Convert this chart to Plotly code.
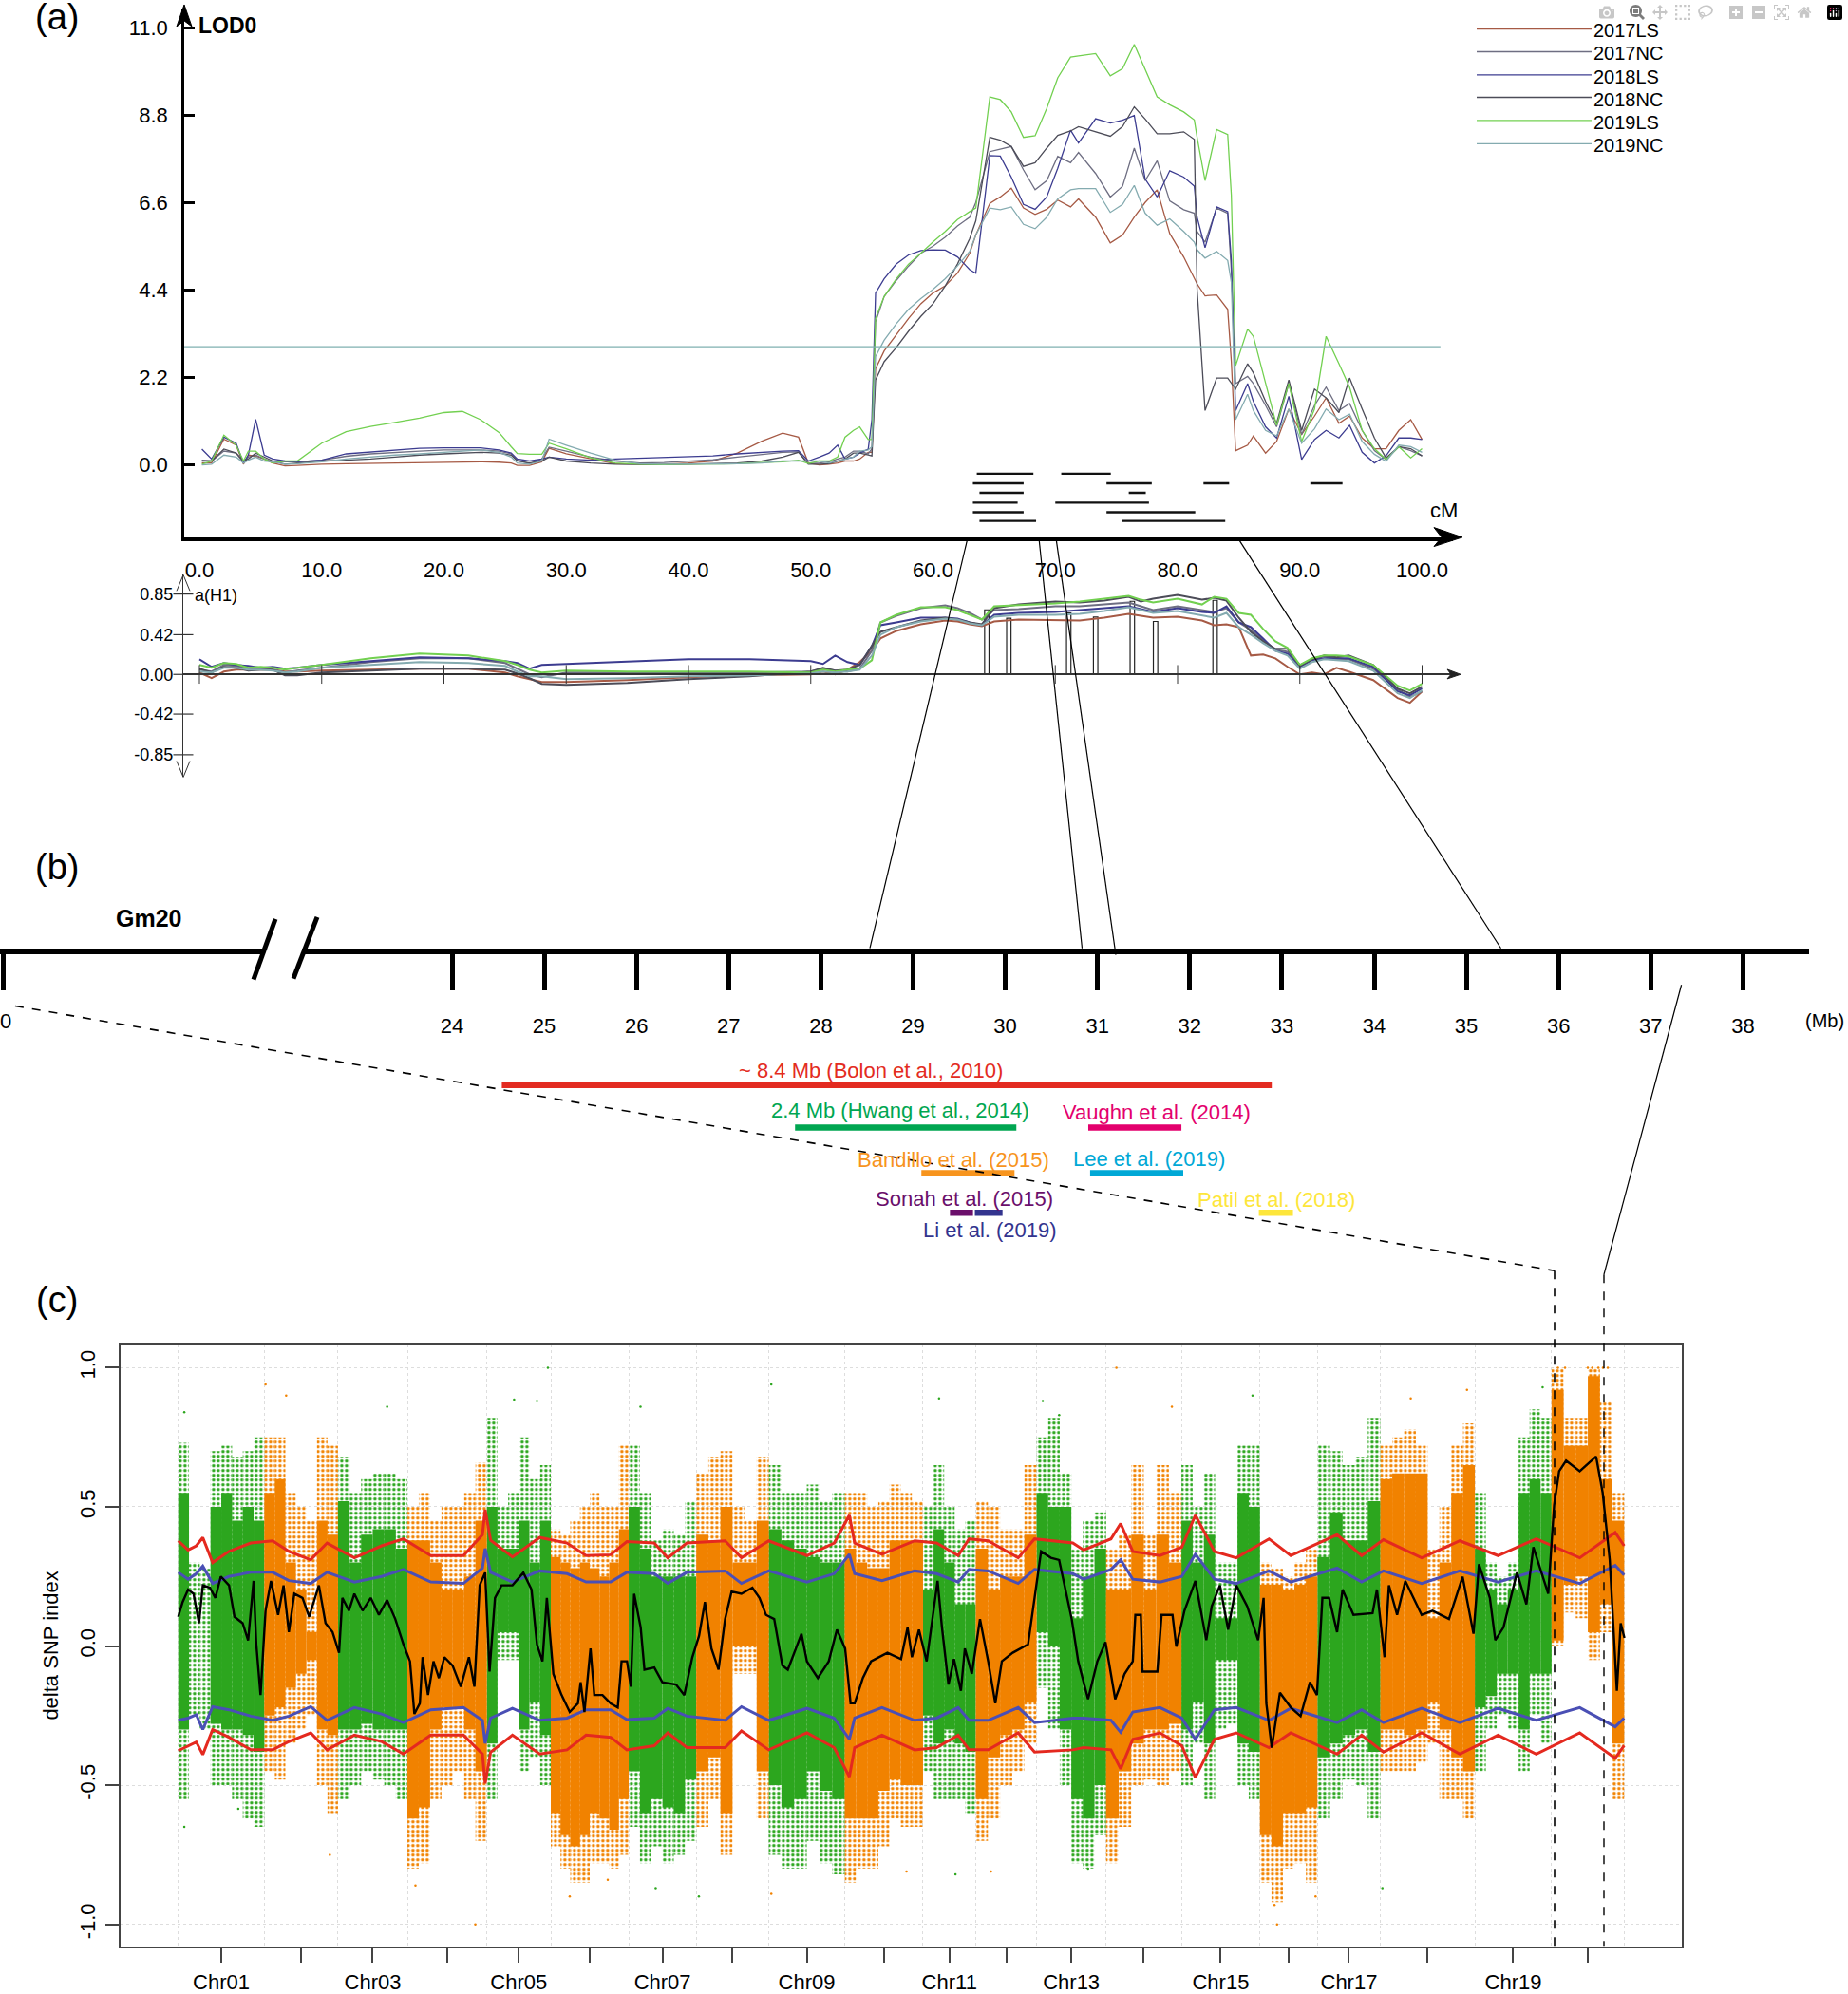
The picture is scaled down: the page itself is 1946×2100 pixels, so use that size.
import plotly.graph_objects as go

W, H = 1946, 2100
FONT = "Liberation Sans, Arial, sans-serif"

# ---------- panel (a): LOD profiles ----------
SERIES = ["2017LS", "2017NC", "2018LS", "2018NC", "2019LS", "2019NC"]
SERIES_COLORS = ["#A65A45", "#6E6E82", "#3C3C90", "#4C4C58", "#72D050", "#84ABB0"]
CM = [0.2,1,2,3,3.6,4,4.6,5.3,6,7,8,10,12,14,16,18,20,21.5,23,24.5,25.5,26,27,28,28.6,30,32,34,36,38,40,42,44,46,47.7,49,49.8,50.7,51.5,52.2,52.8,53.5,54,54.7,
      55.0,55.3,56,57,58,59,60,61,62,63,63.5,64.65,65.5,66.4,67.4,68.35,69.3,70.2,71.25,71.9,73.3,74.5,75.5,76.46,77.35,78.33,79.36,80.5,81.37,81.6,82.25,83.2,84.1,84.4,84.75,85.73,86.2,87.2,88.1,89.1,90.15,91.2,92.15,93.2,94.07,95.1,96.1,97.05,98.1,99.07,100]
LOD_2017LS = [.05,.05,.65,.5,.02,.25,.22,.15,.05,-.02,-.01,.02,.03,.04,.05,.06,.07,.08,.08,.07,.05,-.01,-.01,.08,.42,.28,.15,.03,.02,.02,.05,.1,.3,.6,.8,.7,.05,0,.02,.05,.1,.1,.15,.32,
  .32,2.42,2.87,3.28,3.69,4.06,4.33,4.51,4.83,5.33,5.79,6.59,6.75,6.97,6.47,6.31,6.44,6.67,6.5,6.7,6.24,5.59,5.79,6.24,6.61,6.93,5.83,5.24,4.69,4.56,4.26,4.28,3.92,2.6,.36,.5,.73,.3,.59,1.41,.77,1.23,1.69,1.05,1.23,.68,.41,.41,.87,1.14,.64]
LOD_2017NC = [.12,.1,.35,.3,.05,.2,.25,.15,.08,.08,.08,.12,.22,.28,.32,.35,.38,.38,.38,.35,.28,.12,.03,.15,.45,.35,.2,.1,.05,.06,.1,.13,.2,.27,.32,.33,.03,.05,.08,.15,.2,.35,.35,.28,
  .41,3.6,4.24,4.65,5.01,5.33,5.51,5.74,6.02,6.24,6.61,7.89,7.96,8.02,7.43,6.93,7.16,7.77,7.61,7.87,7.34,6.75,7.02,7.98,7.16,7.66,6.65,6.43,6.34,5.88,5.61,6.47,6.34,4.88,2.05,2.23,2.05,1.5,.96,2.05,.77,1.5,1.96,1.37,1.55,.87,.36,.14,.46,.36,.23]
LOD_2018LS = [.4,.15,.7,.55,.05,.25,1.15,.25,.15,.1,.08,.12,.28,.33,.38,.42,.43,.43,.43,.38,.3,.15,.1,.15,.2,.15,.12,.15,.17,.18,.2,.23,.28,.32,.35,.36,.1,.2,.3,.5,.15,.2,.3,.4,
  1.14,4.33,4.69,5.06,5.29,5.4,5.42,5.41,5.24,4.92,4.83,7.79,7.78,7.25,6.56,6.44,6.75,7.47,8.43,8.11,8.72,8.61,8.68,8.8,7.2,6.75,7.41,7.25,7.02,6.24,5.47,6.5,6.38,5.15,1.37,2.05,1.6,.96,.68,1.73,.14,.64,.87,.68,1.0,.32,.05,.23,.68,.68,.64]
LOD_2018NC = [.1,.1,.4,.3,.1,.15,.3,.2,.1,.02,.05,.1,.12,.15,.2,.25,.28,.3,.32,.3,.25,.1,.05,.1,.2,.1,.05,.02,.01,.01,.02,.03,.05,.1,.2,.32,.02,.02,.03,.1,.15,.3,.3,.25,
  .23,2.14,2.6,2.96,3.37,3.74,4.06,4.51,5.06,5.7,6.15,8.25,8.18,8.02,7.52,7.61,7.98,8.3,8.41,8.52,8.39,8.28,8.52,9.02,8.71,8.34,8.34,8.39,8.2,4.42,1.37,2.19,2.19,2.05,1.91,2.55,2.32,1.6,1.05,2.14,.87,1.91,1.69,1.32,2.19,1.41,.68,.18,.46,.41,.23]
LOD_2019LS = [.02,.1,.75,.5,.1,.35,.35,.15,.05,.1,.1,.55,.84,.97,1.07,1.18,1.32,1.35,1.14,.82,.46,.29,.27,.27,.55,.41,.18,.05,.02,.01,.02,.03,.03,.06,.08,.12,.04,.1,.1,.2,.7,.87,.96,.64,
  .64,3.69,4.24,4.69,5.06,5.33,5.62,5.88,6.18,6.38,6.47,9.27,9.2,8.89,8.25,8.29,8.98,9.75,10.27,10.3,10.36,9.8,9.98,10.59,9.94,9.27,9.07,8.89,8.69,8.25,7.16,8.45,8.32,6.79,2.5,3.42,3.24,2.05,1.0,2.05,.59,1.41,3.24,2.55,1.96,.87,.41,.14,.46,.18,.41]
LOD_2019NC = [0,.02,.25,.2,.05,.12,.2,.1,.08,.02,.03,.08,.15,.2,.25,.28,.32,.35,.38,.32,.2,.05,.02,.1,.65,.5,.3,.12,.03,.02,.02,.02,.03,.05,.1,.1,.1,.1,.05,.1,.15,.2,.35,.38,
  .46,2.73,3.14,3.56,3.92,4.19,4.42,4.69,5.01,5.38,5.79,6.47,6.43,6.5,6.06,5.95,6.24,6.7,6.93,6.96,6.96,6.36,6.56,7.04,6.34,6.04,6.2,5.88,5.61,5.42,5.21,5.38,5.15,4.6,1.14,1.78,1.37,.87,.73,1.41,.55,.91,1.41,1.14,1.28,.59,.27,.09,.5,.46,.32]
LOD_ALL = [LOD_2017LS, LOD_2017NC, LOD_2018LS, LOD_2018NC, LOD_2019LS, LOD_2019NC]
LOD_THRESHOLD = 2.98
LOD_TICKS = [0.0, 2.2, 4.4, 6.6, 8.8, 11.0]
CM_TICKS = [0, 10, 20, 30, 40, 50, 60, 70, 80, 90, 100]
# black QTL-support segments under the curves: row (LOD level), start cM, end cM
QTL_ROW = [-.22,-.22,-.46,-.46,-.46,-.46,-.70,-.70,-.95,-.95,-1.19,-1.19,-1.41,-1.41]
QTL_START = [63.58,70.49,63.26,74.19,82.12,90.86,63.8,76.01,63.26,70.0,63.26,74.19,63.8,75.48]
QTL_END = [68.21,74.54,67.41,77.89,84.22,93.49,67.41,77.4,66.92,77.66,67.41,81.45,68.43,83.9]

# ---------- panel (a) lower: additive effect ----------
A_CM = [0,1,2,3,4,5,6,7,8,10,14,18,22,25,26,27,28,30,35,40,45,50,51,52,53,54,55,55.7,57,59,61,62,63,64,65,67,70,72,74,76,77,78,80,82,83,84,85,86,87,88,89,90,91,92,93,94,96,98,99,100]
A_2017LS = [.02,-.04,.03,.05,.05,.05,.05,.03,.03,.04,.05,.06,.06,.02,-.02,-.05,-.08,-.08,-.06,-.03,-.01,0,.03,0,.05,.13,.25,.38,.46,.53,.57,.56,.53,.51,.56,.58,.57,.57,.6,.64,.62,.6,.61,.57,.52,.53,.5,.2,.21,.17,.08,0,.02,0,.07,.03,-.06,-.25,-.3,-.18]
A_2017NC = [.05,.03,.1,.09,.06,.06,.05,.02,.04,.07,.13,.17,.17,.12,.06,0,-.03,.02,.02,.02,.02,.03,.06,.04,.03,.06,.25,.55,.62,.7,.73,.7,.65,.58,.68,.69,.72,.72,.74,.76,.72,.68,.72,.68,.66,.7,.55,.47,.36,.26,.24,.1,.16,.19,.16,.16,.06,-.16,-.24,-.18]
A_2018LS = [.16,.08,.12,.1,.09,.07,.08,.06,.07,.1,.14,.18,.17,.14,.12,.06,.1,.11,.14,.16,.16,.14,.11,.2,.13,.1,.3,.52,.55,.6,.6,.59,.55,.52,.63,.65,.66,.68,.7,.72,.69,.66,.7,.66,.65,.72,.55,.5,.38,.25,.22,.08,.15,.17,.17,.17,.08,-.18,-.22,-.15]
A_2018NC = [.06,.02,.08,.07,.04,.05,.05,-.01,-.01,.02,.04,.06,.06,.05,.01,-.04,-.1,-.11,-.09,-.05,-.02,.03,.07,.04,.05,.1,.3,.45,.5,.57,.6,.58,.55,.53,.7,.74,.77,.76,.78,.82,.77,.8,.84,.79,.81,.78,.6,.45,.35,.27,.27,.09,.16,.2,.18,.2,.1,-.15,-.2,-.13]
A_2019LS = [.1,.07,.12,.11,.07,.08,.07,.05,.07,.1,.17,.22,.2,.14,.1,.05,.02,.04,.03,.03,.03,.02,.05,.03,.05,.06,.15,.55,.63,.71,.71,.68,.63,.58,.72,.73,.75,.77,.8,.83,.79,.76,.8,.74,.82,.8,.65,.63,.48,.35,.28,.1,.17,.2,.2,.19,.1,-.12,-.17,-.1]
A_2019NC = [.03,.02,.07,.07,.05,.05,.04,.02,.03,.07,.1,.13,.12,.09,.03,-.02,-.02,-.05,-.04,-.02,-.01,.01,.03,.02,.03,.05,.2,.42,.5,.56,.59,.58,.54,.52,.61,.63,.63,.64,.67,.71,.68,.65,.67,.62,.6,.65,.5,.42,.33,.25,.2,.06,.13,.16,.15,.14,.04,-.2,-.25,-.17]
A_ALL = [A_2017LS, A_2017NC, A_2018LS, A_2018NC, A_2019LS, A_2019NC]
A_PEAK_CM = [64.4,66.2,71.1,73.3,76.3,78.2,83.07]
A_PEAK_H = [.683,.593,.65,.607,.773,.56,.783]
A_TICKS = [.85,.42,0,-.42,-.85]
A_TICKTEXT = ["0.85","0.42","0.00","-0.42","-0.85"]

# ---------- panel (b): physical map ----------
MB_TICKS = list(range(24, 39))
MB_BROKEN_ZERO = 19.13   # where the broken axis puts its "0"
STUDY_LABEL = ["~ 8.4 Mb (Bolon et al., 2010)","2.4 Mb (Hwang et al., 2014)","Vaughn et al. (2014)","Bandillo et al. (2015)","Lee et al. (2019)","Sonah et al. (2015)","Li et al. (2019)","Patil et al. (2018)"]
STUDY_START = [24.54,27.72,30.9,29.09,30.92,29.40,29.67,32.75]
STUDY_END = [32.89,30.12,31.91,30.10,31.93,29.65,29.97,33.12]
STUDY_ROW = [1,2,2,3.07,3.07,4,4,4]
STUDY_COLOR = ["#E32B21","#00A651","#E3006D","#F7941D","#00A8D6","#6B0F6B","#33348E","#FDE63B"]

# ---------- panel (c): genome scan ----------
CHR_LEN = [56.8,48.6,45.8,52.4,42.2,51.4,44.6,47.8,50.2,51.6,34.8,40.1,45.9,49.7,51.8,37.9,41.6,62.3,50.6,47.9]
# per chromosome, equal windows: outer sparse top, dense top, dense bottom, outer sparse bottom
SPARSE_TOP = [[.73,.3,.28,.7,.72,.68,.7,.75],[.75,.75,.55,.5,.45,.75,.72],[.68,.55,.6,.62,.62,.6],[.5,.55,.45,.5,.5,.55,.66],
 [.82,.5,.55,.75,.6,.65],[.42,.4,.45,.5,.55,.5,.5,.72],[.72,.55,.38,.42,.4,.52],[.62,.68,.7,.5,.45,.68],[.65,.55,.55,.58,.52,.55],
 [.55,.55,.5,.52,.58,.55,.52],[.5,.65,.5,.42,.45],[.52,.5,.42,.42,.65],[.75,.82,.62,.35,.45,.48],[.35,.4,.65,.4,.65,.55],
 [.65,.5,.62,.3,.3,.72,.72],[.3,.28,.25,.3,.35],[.72,.7,.65,.68,.82],[.72,.75,.78,.72,.35,.5,.72,.8],[.55,.3,.25,.3,.75,.85,.82],[1.0,.82,.82,1.0,.88,.55]]
DENSE_TOP = [[.55,0,0,.5,.55,.45,.5,.45],[.55,.6,.3,.2,.05,.45,.4],[.52,.3,.4,.42,.42,.35],[.38,.38,.3,.2,.2,.25,.45],
 [.5,.35,.35,.45,.3,.45],[.32,.3,.28,.3,.28,.25,.3,.42],[.5,.35,.25,.25,.25,.25],[.4,.38,.5,.3,.3,.45],[.42,.38,.35,.32,.3,.3],
 [.35,.3,.28,.28,.38,.38,.38],[.2,.42,.3,.15,.15],[.35,.2,.25,.25,.4],[.55,.5,.5,.1,.25,.35],[.2,.2,.4,.2,.4,.3],
 [.45,.3,.4,.1,.1,.55,.5],[.22,.22,.2,.22,.25],[.32,.48,.38,.38,.52],[.6,.62,.62,.62,.1,.3,.55,.65],[.35,.2,.15,.2,.55,.6,.55],[.92,.72,.72,.97,.6,.45]]
DENSE_BOT = [[-.3,0,0,-.28,-.3,-.3,-.32,-.38],[-.25,-.22,-.15,-.1,-.05,-.3,-.32],[-.3,-.3,-.28,-.3,-.3,-.3],[-.62,-.58,-.3,-.22,-.22,-.3,-.45],
 [-.35,.05,.05,-.3,-.2,-.32],[-.6,-.68,-.72,-.68,-.6,-.62,-.66,-.55],[-.45,-.6,-.55,-.58,-.6,-.48],[-.45,-.4,-.6,0,0,-.45],[-.5,-.58,-.55,-.45,-.52,-.55],
 [-.62,-.62,-.62,-.52,-.48,-.5,-.5],[-.25,-.35,-.3,-.35,-.38],[-.55,-.4,-.32,-.3,-.2],[.05,0,-.3,-.55,-.62,-.5],[-.62,-.45,-.35,-.3,-.3,-.28],
 [-.3,-.2,-.35,-.05,-.05,-.35,-.38],[-.68,-.72,-.6,-.6,-.58],[-.4,-.35,-.32,-.3,-.38],[-.3,-.3,-.32,-.3,-.2,-.3,-.4,-.45],[-.22,-.18,-.1,-.1,-.3,-.1,-.1],[.02,.22,.25,.05,.15,-.35]]
SPARSE_BOT = [[-.55,-.25,-.3,-.5,-.5,-.55,-.62,-.65],[-.45,-.48,-.35,-.3,-.25,-.5,-.6],[-.55,-.5,-.45,-.48,-.5,-.55],[-.8,-.78,-.55,-.5,-.45,-.55,-.7],
 [-.55,-.05,-.05,-.45,-.4,-.5],[-.72,-.8,-.85,-.85,-.78,-.78,-.8,-.75],[-.65,-.78,-.72,-.78,-.75,-.7],[-.65,-.55,-.75,-.1,-.1,-.62],[-.75,-.8,-.8,-.7,-.78,-.82],
 [-.85,-.8,-.8,-.72,-.62,-.65,-.65],[-.45,-.55,-.55,-.55,-.6],[-.7,-.62,-.5,-.45,-.35],[-.15,-.3,-.5,-.78,-.8,-.68],[-.78,-.65,-.5,-.48,-.5,-.45],
 [-.5,-.35,-.55,-.3,-.28,-.5,-.55],[-.85,-.92,-.8,-.78,-.85],[-.62,-.55,-.48,-.5,-.62],[-.45,-.45,-.45,-.42,-.35,-.55,-.55,-.62],[-.45,-.3,-.25,-.3,-.45,-.25,-.35],[0,.12,.1,-.05,.05,-.55]]
CHR_COLORS = ["#2CA61E", "#F18200"]
STRAY_GREEN_X = [243.9,221.6,236.7,391.3,305,137.8,4,4,39.6,315,343.5,502,570.4,581.2,708.8,794.5,600.3,512.8,900.2]
STRAY_GREEN_Y = [1.0,.885,.88,.94,.86,.86,.84,-.65,-.585,-.87,-.9,.89,.88,.83,.9,-.87,-.8,-.82,.93]
STRAY_ORANGE_X = [57.6,71.2,196,156.5,258.3,283.4,391.3,100,619,655.6,725,723.3,750.4,813.2,850.3,910.3,915,930,933,937,940,943.2,536.2,480.5]
STRAY_ORANGE_Y = [.94,.9,-1.0,-.86,-.9,-.84,-.89,-.75,1.0,.86,-1.0,-.93,-.9,.89,.92,1.0,1.0,1.0,1.0,1.0,1.0,1.0,-.81,-.81]
CI_X = [0,6.5,11.9,16.2,22.7,33.5,47.9,62.3,73,87.4,98.2,116.2,134.2,148.6,166.6,188.2,200.7,202.5,206.1,220.5,238.5,256.5,269.1,285.3,296,314,323,335.6,360.8,371.6,389.6,414.8,432.8,442.8,446.3,464.3,485.9,500.3,514.6,521.8,534.4,554.2,565,590.2,597.4,615.4,621.8,629.8,647.7,662.1,671.1,683.7,698.1,719.7,734,764.6,780.8,795.2,820.4,845.6,870.8,896,924.7,948.1,954]
RED_UP = [.378,.345,.36,.39,.30,.34,.37,.378,.34,.31,.37,.317,.36,.385,.325,.325,.40,.49,.38,.32,.39,.37,.325,.328,.375,.37,.317,.37,.378,.317,.378,.325,.37,.47,.37,.33,.378,.37,.325,.385,.378,.317,.385,.37,.345,.385,.44,.34,.325,.355,.47,.34,.317,.385,.325,.40,.325,.382,.317,.378,.325,.385,.317,.408,.36]
BLUE_UP = [.265,.24,.26,.287,.225,.25,.265,.265,.235,.225,.265,.23,.25,.275,.23,.225,.28,.35,.265,.23,.27,.26,.23,.23,.265,.26,.225,.265,.27,.225,.27,.23,.26,.33,.26,.235,.27,.26,.23,.275,.27,.225,.275,.26,.24,.275,.31,.24,.23,.25,.33,.24,.225,.27,.23,.28,.23,.27,.225,.27,.23,.27,.225,.29,.255]
BLUE_LOW = [-.267,-.259,-.247,-.30,-.218,-.229,-.252,-.267,-.252,-.218,-.267,-.221,-.244,-.275,-.229,-.221,-.267,-.35,-.259,-.224,-.267,-.259,-.229,-.229,-.264,-.259,-.224,-.252,-.267,-.218,-.267,-.224,-.259,-.335,-.259,-.221,-.267,-.259,-.221,-.267,-.267,-.221,-.275,-.259,-.259,-.267,-.31,-.237,-.221,-.259,-.335,-.229,-.221,-.267,-.224,-.275,-.229,-.275,-.224,-.275,-.224,-.267,-.221,-.29,-.259]
RED_LOW = [-.376,-.36,-.345,-.39,-.30,-.328,-.373,-.373,-.343,-.312,-.373,-.32,-.343,-.388,-.32,-.32,-.388,-.494,-.381,-.32,-.388,-.373,-.32,-.328,-.373,-.358,-.312,-.365,-.365,-.305,-.373,-.312,-.365,-.47,-.365,-.32,-.373,-.365,-.32,-.373,-.373,-.312,-.381,-.373,-.365,-.373,-.441,-.335,-.312,-.358,-.472,-.335,-.312,-.365,-.312,-.388,-.32,-.381,-.312,-.388,-.32,-.388,-.312,-.403,-.358]
DELTA_X = [0.0,2.9,6.5,10.1,13.7,16.2,20.9,24.5,28.1,33.5,37.1,42.5,46.1,49.7,51.5,54.3,57.6,61.2,65.9,69.5,73.0,76.6,82.0,86.4,92.8,97.2,101.8,106.1,108.3,112.6,116.2,121.6,127.0,132.4,137.8,143.2,148.6,152.9,155.8,159.4,161.2,164.8,168.4,172.0,175.6,181.0,186.4,191.8,195.4,198.9,202.5,205.4,209.0,213.3,220.5,227.7,233.1,236.7,240.3,243.2,247.5,252.9,258.3,263.7,265.5,268.0,272.0,274.5,279.9,285.3,290.0,292.5,296.1,298.6,300.8,305.1,307.6,314.1,319.4,328.4,333.9,339.2,343.6,347.5,351.8,356.5,360.8,365.1,371.6,378.8,383.5,387.8,393.2,398.6,402.2,411.2,414.8,422.0,429.2,434.6,440.0,443.6,
 446.3,451.7,457.1,467.9,476.9,481.2,484.1,488.7,493.8,498.5,501.0,503.9,508.2,511.8,516.4,519.0,523.6,529.0,534.4,539.1,543.4,550.6,560.7,565.0,569.3,575.8,581.2,584.8,589.5,593.8,600.3,606.4,611.8,618.2,624.4,629.8,631.5,635.1,636.2,646.0,648.8,656.0,658.5,663.9,671.1,678.3,681.9,687.3,692.7,698.1,705.3,712.5,716.1,717.9,721.5,726.9,734.1,740.5,746.7,751.3,754.9,759.3,764.6,768.2,775.4,788.0,790.9,795.9,798.8,804.2,809.6,820.4,827.6,838.4,847.4,854.6,858.2,865.4,869.0,874.4,883.3,889.5,894.1,903.9,907.8,911.1,915.7,924.7,935.5,939.8,944.5,949.2,951.7,954.2]
DELTA_Y = [.105,.158,.203,.188,.082,.218,.21,.173,.25,.218,.105,.082,.02,.234,.006,-.176,.127,.234,.112,.218,.05,.188,.173,.105,.218,.082,.05,-.024,.173,.127,.188,.127,.173,.112,.165,.097,.006,-.055,-.244,-.206,-.04,-.176,-.055,-.115,-.04,-.07,-.146,-.04,-.146,.218,.264,-.092,.173,.218,.218,.264,.203,.006,-.055,.173,-.1,-.176,-.237,-.206,-.13,-.237,-.009,-.176,-.176,-.206,-.221,-.055,-.055,-.146,.188,.067,-.085,-.077,-.13,-.138,-.176,-.04,.036,.158,-.009,-.085,.097,.196,.188,.21,.173,.112,.097,-.07,-.085,.044,-.055,-.115,-.055,.059,-.009,-.206,
 -.206,-.115,-.055,-.024,-.047,.067,-.04,.059,-.055,.127,.234,.067,-.138,-.047,-.161,-.009,-.1,.097,-.055,-.206,-.055,-.024,.006,.173,.34,.317,.309,.218,.097,-.055,-.191,-.055,.014,-.191,-.1,-.055,.112,.112,-.092,-.092,.112,.112,-.002,.127,.234,.021,.143,.218,.059,.218,.143,.021,.173,-.206,-.365,-.168,-.221,-.252,-.13,-.176,.173,.173,.05,.203,.112,.118,.203,-.04,.218,.112,.234,.112,.127,.097,.249,.044,.294,.173,.021,.067,.264,.15,.355,.188,.506,.628,.666,.628,.681,.552,.309,-.161,.082,.029]
DELTA_TICKS = [-1.0,-.5,0,.5,1.0]

assert len(CM)==95 and all(len(s)==len(CM) for s in LOD_ALL), [len(s) for s in LOD_ALL]
assert all(len(s)==len(A_CM) for s in A_ALL), [len(s) for s in A_ALL]
assert all(len(s)==len(CI_X) for s in (RED_UP,BLUE_UP,BLUE_LOW,RED_LOW)), (len(CI_X),len(RED_UP),len(BLUE_UP),len(BLUE_LOW),len(RED_LOW))
assert len(DELTA_X)==len(DELTA_Y),(len(DELTA_X),len(DELTA_Y))

def px(x): return x / W
def py(y): return 1 - y / H

fig = go.Figure()
shapes, notes = [], []
ax_line = "#000000"

def seg(x0, y0, x1, y1, color="black", width=1.2, dash=None):
    shapes.append(dict(type="line", xref="paper", yref="paper", x0=px(x0), y0=py(y0), x1=px(x1), y1=py(y1),
                       line=dict(color=color, width=width, dash=dash)))

def note(x, y, text, size=22, color="black", bold=False, xanchor="center", angle=0):
    t = f"<b>{text}</b>" if bold else text
    notes.append(dict(xref="paper", yref="paper", x=px(x), y=py(y), text=t, showarrow=False, xanchor=xanchor, yanchor="middle",
                      textangle=angle, font=dict(family=FONT, size=size, color=color)))

def arrow(points, color="black"):
    path = "M " + " L ".join(f"{px(a)},{py(b)}" for a, b in points) + " Z"
    shapes.append(dict(type="path", xref="paper", yref="paper", path=path, fillcolor=color, line=dict(color=color, width=1)))

# panel (a) top
for name, col, ys in zip(SERIES, SERIES_COLORS, LOD_ALL):
    fig.add_trace(go.Scatter(x=CM, y=ys, mode="lines", name=name, line=dict(color=col, width=1.3), xaxis="x", yaxis="y", hoverinfo="name+x+y"))
fig.add_trace(go.Scatter(x=[-1.24, 101.5], y=[LOD_THRESHOLD]*2, mode="lines", line=dict(color="#7FB0B0", width=1.3), xaxis="x", yaxis="y", name="threshold"))
qx, qy = [], []
for r, a, b in zip(QTL_ROW, QTL_START, QTL_END):
    qx += [a, b, None]; qy += [r, r, None]
fig.add_trace(go.Scatter(x=qx, y=qy, mode="lines", line=dict(color="#111111", width=2.4), xaxis="x", yaxis="y", name="QTL"))
fig.add_trace(go.Scatter(x=CM_TICKS, y=[-1.824]*len(CM_TICKS), mode="markers", cliponaxis=False, xaxis="x", yaxis="y", name="ticks",
                         marker=dict(symbol="line-ns", size=17, line=dict(color="black", width=2.5))))

# panel (a) bottom
fig.add_trace(go.Bar(x=A_PEAK_CM, y=A_PEAK_H, width=[.36]*len(A_PEAK_CM), marker=dict(color="white", line=dict(color="#222222", width=1.2)), xaxis="x2", yaxis="y2", name="peaks"))
for name, col, ys in zip(SERIES, SERIES_COLORS, A_ALL):
    fig.add_trace(go.Scatter(x=A_CM, y=ys, mode="lines", name=name+" a", line=dict(color=col, width=2), xaxis="x2", yaxis="y2"))
fig.add_trace(go.Scatter(x=CM_TICKS, y=[0]*len(CM_TICKS), mode="markers", cliponaxis=False, xaxis="x2", yaxis="y2", name="ticks",
                         marker=dict(symbol="line-ns", size=14, line=dict(color="#333333", width=1))))
fig.add_trace(go.Scatter(x=[-1.32]*len(A_TICKS), y=A_TICKS, mode="markers", cliponaxis=False, xaxis="x2", yaxis="y2", name="ticks",
                         marker=dict(symbol="line-ew", size=15, line=dict(color="#333333", width=1.2))))

# panel (b)
for lab, a, b, r, col in zip(STUDY_LABEL, STUDY_START, STUDY_END, STUDY_ROW, STUDY_COLOR):
    fig.add_trace(go.Scatter(x=[a, b], y=[r, r], mode="lines", name=lab, line=dict(color=col, width=6.5), xaxis="x3", yaxis="y3"))

# panel (c)
starts = []
pos = 0.0
for L in CHR_LEN:
    starts.append(pos); pos += L
for idx, color in enumerate(CHR_COLORS):
    cx, cw, st, sb, dt, db = [], [], [], [], [], []
    for c in range(idx, 20, 2):
        n = len(SPARSE_TOP[c])
        w = CHR_LEN[c] / n
        for i in range(n):
            cx.append(starts[c] + (i + .5) * w); cw.append(w)
            st.append(SPARSE_TOP[c][i]); sb.append(SPARSE_BOT[c][i]); dt.append(DENSE_TOP[c][i]); db.append(DENSE_BOT[c][i])
    fig.add_trace(go.Bar(x=cx, base=sb, y=[a-b for a, b in zip(st, sb)], width=cw, xaxis="x4", yaxis="y4", name="sparse",
                         marker=dict(color="rgba(255,255,255,0)", line=dict(width=0),
                                     pattern=dict(shape=".", size=5, solidity=.38, fgcolor=color, fgopacity=1, bgcolor="rgba(255,255,255,0)"))))
    fig.add_trace(go.Bar(x=cx, base=db, y=[a-b for a, b in zip(dt, db)], width=cw, xaxis="x4", yaxis="y4", name="dense",
                         marker=dict(color=color, line=dict(width=0))))
fig.add_trace(go.Scatter(x=STRAY_GREEN_X, y=STRAY_GREEN_Y, mode="markers", marker=dict(color=CHR_COLORS[0], size=2.5), xaxis="x4", yaxis="y4", name="SNP"))
fig.add_trace(go.Scatter(x=STRAY_ORANGE_X, y=STRAY_ORANGE_Y, mode="markers", marker=dict(color=CHR_COLORS[1], size=2.5), xaxis="x4", yaxis="y4", name="SNP"))
for ys, col in ((BLUE_UP, "#4A4FB5"), (BLUE_LOW, "#4A4FB5"), (RED_UP, "#E4291F"), (RED_LOW, "#E4291F")):
    fig.add_trace(go.Scatter(x=CI_X, y=ys, mode="lines", line=dict(color=col, width=3), xaxis="x4", yaxis="y4", name="CI"))
fig.add_trace(go.Scatter(x=DELTA_X, y=DELTA_Y, mode="lines", line=dict(color="black", width=2.4), xaxis="x4", yaxis="y4", name="delta SNP index"))

# geometry of panels, in page pixels
a_l, a_r, a_t, a_b = 194, 1530, 10, 568.3
h_l, h_r, h_t, h_b = 193, 1530, 608, 822
b_l, b_r, b_t, b_b = 0, 1905, 1006.7, 1320
c_l, c_r, c_t, c_b = 127.4, 1771.4, 1422.3, 2058.5
bounds = []
for s, L in zip(starts, CHR_LEN):
    bounds.append(s)
bounds.append(pos)
mids = [s + L / 2 for s, L in zip(starts, CHR_LEN)]
chr_text = [f"Chr{i+1:02d}" if i % 2 == 0 else "" for i in range(20)]
tickfont = dict(family=FONT, size=22, color="black")

layout = dict(
    width=W, height=H, margin=dict(l=0, r=0, t=0, b=0), paper_bgcolor="white", plot_bgcolor="rgba(0,0,0,0)",
    showlegend=False, barmode="overlay", font=dict(family=FONT, color="black"),
    xaxis=dict(domain=[px(a_l), px(a_r)], range=[(a_l-210)/12.875, (a_r-210)/12.875], anchor="y", tickvals=CM_TICKS,
               ticktext=[f"{v:.1f}" for v in CM_TICKS], tickfont=tickfont, ticks="", showgrid=False, zeroline=False,
               showline=True, linecolor=ax_line, linewidth=3.5, ticklabelstandoff=12),
    yaxis=dict(domain=[py(a_b), py(a_t)], range=[(491.8-a_b)/42, (491.8-a_t)/42], anchor="x", tickvals=LOD_TICKS,
               ticktext=[f"{v:.1f}" for v in LOD_TICKS], tickfont=tickfont, ticks="inside", ticklen=11, tickwidth=3, tickcolor="black",
               showgrid=False, zeroline=False, showline=True, linecolor=ax_line, linewidth=2.5, ticklabelstandoff=10),
    xaxis2=dict(domain=[px(h_l), px(h_r)], range=[(h_l-210)/12.875, (h_r-210)/12.875], anchor="free", position=py(713.3), showticklabels=False,
                ticks="", showgrid=False, zeroline=False, showline=True, linecolor="#333333", linewidth=1.6),
    yaxis2=dict(domain=[py(h_b), py(h_t)], range=[(713.3-h_b)/100, (713.3-h_t)/100], anchor="x2", tickvals=A_TICKS, ticktext=A_TICKTEXT,
                tickfont=dict(family=FONT, size=18, color="black"), ticks="", showgrid=False, zeroline=False, showline=True,
                linecolor="#333333", linewidth=1.2, ticklabelstandoff=6),
    xaxis3=dict(domain=[px(b_l), px(b_r)], range=[(b_l-476)/97.1+24, (b_r-476)/97.1+24], anchor="free", position=py(1006.7),
                tickvals=[MB_BROKEN_ZERO]+MB_TICKS, ticktext=[""]+[str(v) for v in MB_TICKS], tickfont=tickfont, ticks="outside",
                ticklen=38, tickwidth=5, tickcolor="black", showgrid=False, zeroline=False, showline=True, linecolor="black", linewidth=6,
                ticklabelstandoff=18),
    yaxis3=dict(domain=[py(b_b), py(b_t)], range=[1+(b_b-1147.7)/45, 1-(1147.7-b_t)/45], anchor="x3", visible=False),
    xaxis4=dict(domain=[px(c_l), px(c_r)], range=[(c_l-187.7)/1.596, (c_r-187.7)/1.596], anchor="y4", tickvals=mids, ticktext=chr_text,
                tickfont=tickfont, ticks="outside", ticklen=15, tickwidth=1.6, tickcolor="#444444", showgrid=False, zeroline=False,
                showline=True, mirror=True, linecolor="#444444", linewidth=1.8, ticklabelstandoff=2,
                minor=dict(tickvals=bounds, showgrid=True, gridcolor="#DDDDDD", griddash="dot", gridwidth=1, ticks="")),
    yaxis4=dict(domain=[py(c_b), py(c_t)], range=[(1741-c_b)/294.4, (1741-c_t)/294.4], anchor="x4", tickvals=DELTA_TICKS,
                ticktext=[f"{v:.1f}" for v in DELTA_TICKS], tickangle=-90, tickfont=tickfont, ticks="outside", ticklen=15, tickwidth=1.6,
                tickcolor="#444444", showgrid=True, gridcolor="#DDDDDD", griddash="dot", gridwidth=1, zeroline=False,
                showline=True, mirror=True, linecolor="#444444", linewidth=1.8, ticklabelstandoff=2,
                title=dict(text="delta SNP index", font=dict(family=FONT, size=22), standoff=12)),
)

# axis arrowheads
arrow([(194, 5), (186, 28), (194, 22), (202, 28)])
arrow([(1540, 568.3), (1510, 558), (1518, 568.3), (1510, 578)])
seg(186, 625, 193, 608, "#333333", 1); seg(200, 625, 193, 608, "#333333", 1)
seg(186, 805, 193, 822, "#333333", 1); seg(200, 805, 193, 822, "#333333", 1)
arrow([(1538, 713.3), (1524, 708), (1528, 713.3), (1524, 718)], "#222222")

# broken axis
seg(278, 1006.7, 318, 1006.7, "white", 8)
seg(290, 972, 267, 1036, "black", 5)
seg(334, 970, 309, 1035, "black", 5)

# connectors between panels
seg(1019, 569, 916, 1003); seg(1094, 569, 1139.5, 1003); seg(1112, 569, 1175, 1010); seg(1303.5, 569, 1580.5, 1003)
seg(1770.6, 1041.7, 1689, 1348)
seg(16, 1064, 1637, 1344, "black", 1.6, "dash")
seg(1637, 1344, 1637, 2058, "black", 1.6, "dash")
seg(1689, 1348, 1689, 2058, "black", 1.4, "dash")

# legend
for i, (name, col) in enumerate(zip(SERIES, SERIES_COLORS)):
    yy = [30.6, 54.7, 79.2, 103, 127.4, 152][i]
    seg(1555, yy, 1676, yy, col, 1.4)
    note(1676, yy + 2, name, 20, "black", xanchor="left")

# texts
note(60, 18, "(a)", 38); note(60, 917, "(b)", 38); note(60, 1375, "(c)", 38)
note(207, 27, "LOD0", 23, bold=True, xanchor="left")
note(1520, 540, "cM", 22)
note(203, 630, "a(H1)", 18, xanchor="left")
note(156, 971, "Gm20", 25, bold=True)
note(6, 1080, "0", 22)
note(1921, 1080, "(Mb)", 20)
LABEL_POS = [(917,1132.7),(947,1175),(1218,1176.7),(1003.6,1226.7),(1210,1226),(1015,1267.7),(1042,1301),(1344,1269)]
for lab, (x, y), col in zip(STUDY_LABEL, LABEL_POS, STUDY_COLOR):
    note(x, y, lab, 22, col)

layout["shapes"] = shapes
layout["annotations"] = notes
fig.update_layout(**layout)
fig.write_html("out.html", post_script="document.body.style.margin='0';")
